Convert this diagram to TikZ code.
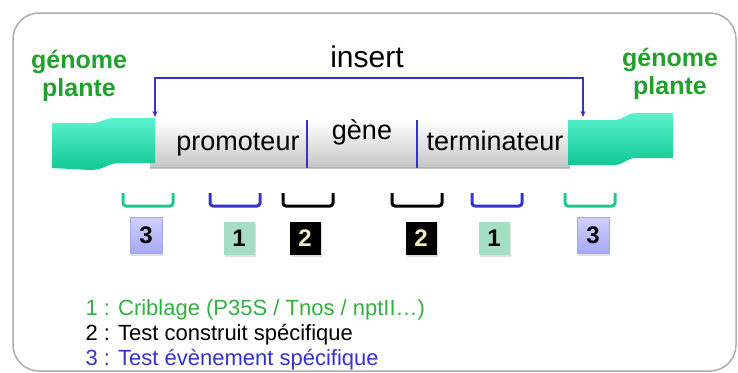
\documentclass[tikz,border=0pt]{standalone}
\usepackage{fontspec}
\setmainfont{Liberation Sans}
\usetikzlibrary{arrows.meta,shadows}

\definecolor{plantgreen}{RGB}{34,160,44}
\definecolor{legendgreen}{RGB}{50,176,64}
\definecolor{insblue}{RGB}{52,52,204}
\definecolor{mintlight}{RGB}{90,242,206}
\definecolor{mintdark}{RGB}{18,200,148}
\definecolor{cupgreen}{RGB}{30,200,140}
\definecolor{boxlav}{RGB}{168,168,248}
\definecolor{boxmint}{RGB}{166,222,196}
\definecolor{digitcream}{RGB}{240,236,190}

\begin{document}
\begin{tikzpicture}[x=1pt,y=-1pt,
seglabel/.style={anchor=base, font=\fontsize{27}{30}\selectfont},
plantlabel/.style={align=center, text=plantgreen, font=\bfseries\fontsize{25}{28}\selectfont},
flag/.style={top color=mintlight, bottom color=mintdark},
divider/.style={draw=insblue, line width=2.5pt},
cup/.style={line width=3pt, rounded corners=3pt},
numbox/.style={rectangle, minimum width=31pt, minimum height=33pt, inner sep=0pt,
  font=\bfseries\fontsize{24}{24}\selectfont,
  drop shadow={shadow xshift=1pt, shadow yshift=-2pt, opacity=0.25}},
legend/.style={anchor=base west, font=\fontsize{22}{24}\selectfont},
]
\useasboundingbox (0,0) rectangle (738,372);
\draw [gray!65, line width=1.5pt, rounded corners=26pt] (13,13) rectangle (736,371);

% titles
\node (ins) [anchor=base, font=\fontsize{30}{32}\selectfont] at (367,67) {insert};
\node (plantL) [plantlabel] at (79,76) {génome\\plante};
\node (plantR) [plantlabel] at (670,74) {génome\\plante};

% insert bar
\shade [top color=white, bottom color=gray!45] (150,120) rectangle (570,168);
\draw [gray!60, line width=0.8pt] (150,167.5) -- (570,167.5);
\draw [divider] (307,120) -- (307,168);
\draw [divider] (417,120) -- (417,168);
\node (prom) [seglabel] at (238,150) {promoteur};
\node (gene) [seglabel] at (362,139) {gène};
\node (term) [seglabel] at (495,150) {terminateur};

% plant genome ends
\shade [flag] (52,123) -- (90,123) .. controls (104,123) and (102,118) .. (116,118)
  -- (155,118) -- (155,163) -- (120,163) .. controls (106,163) and (106,170) .. (90,170)
  -- (52,168) -- cycle;
\shade [flag] (568,120) -- (613,120) .. controls (626,120) and (624,113) .. (637,113)
  -- (673,113) -- (673,158) -- (637,158) .. controls (624,158) and (626,165) .. (613,165)
  -- (568,165) -- cycle;

% bracket over the insert
\coordinate (insL) at (155,117);
\coordinate (insR) at (583,117);
\draw [insblue, line width=2pt, {Stealth[length=6pt,width=5pt]}-{Stealth[length=6pt,width=5pt]}]
  (insL) -- ++(0,-39) -| (insR);

% amplified regions
\foreach \x/\c in {148/cupgreen, 235/insblue, 308/black, 417/black, 497/insblue, 590/cupgreen}
  \draw [cup, \c] (\x-25,193) -- (\x-25,206) -- (\x+25,206) -- (\x+25,193);

% test numbers
\node (t3a) [numbox, minimum width=32pt, minimum height=36pt, top color=boxlav!55, bottom color=boxlav, draw=insblue!45] at (146,235.5) {3};
\node (t1a) [numbox, fill=boxmint] at (239,238.5) {1};
\node (t2a) [numbox, fill=black, text=digitcream] at (305,238.5) {2};
\node (t2b) [numbox, fill=black, text=digitcream] at (421,238.5) {2};
\node (t1b) [numbox, fill=boxmint] at (494,238.5) {1};
\node (t3b) [numbox, minimum width=32pt, minimum height=36pt, top color=boxlav!55, bottom color=boxlav, draw=insblue!45] at (593,235.5) {3};

% legend
\node (leg1) [legend, text=legendgreen] at (82,315) {1 : Criblage (P35S / Tnos / nptII…)};
\node (leg2) [legend] at (82,340) {2 : Test construit spécifique};
\node (leg3) [legend, text=insblue] at (82,365) {3 : Test évènement spécifique};
\end{tikzpicture}
\end{document}
